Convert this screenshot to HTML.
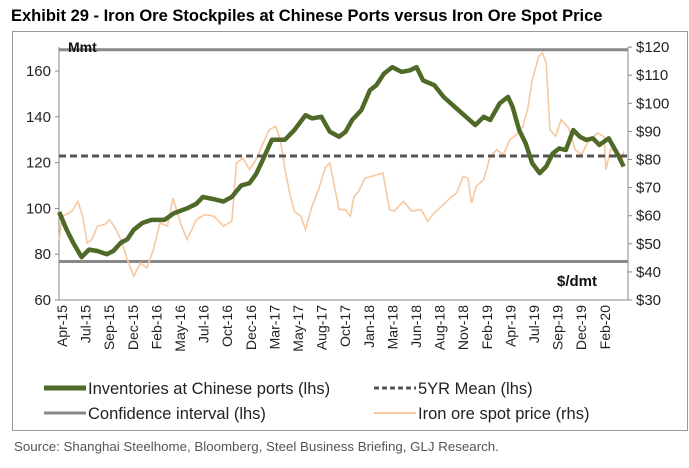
<!DOCTYPE html>
<html><head><meta charset="utf-8"><style>
body{margin:0;background:#fff;width:689px;height:463px;overflow:hidden;font-family:"Liberation Sans",sans-serif}
</style></head><body>
<svg width="689" height="463" xmlns="http://www.w3.org/2000/svg">
<text x="11" y="21" font-size="16.5" font-weight="bold" fill="#000">Exhibit 29 - Iron Ore Stockpiles at Chinese Ports versus Iron Ore Spot Price</text>
<rect x="12.5" y="31.5" width="675" height="399" fill="none" stroke="#9a9a9a"/>
<g id="plot"></g>
<text x="14" y="451" font-size="13.3" fill="#555">Source: Shanghai Steelhome, Bloomberg, Steel Business Briefing, GLJ Research.</text>
</svg>
<script>
const tickLabels=["Apr-15","Jul-15","Sep-15","Dec-15","Feb-16","May-16","Jul-16","Oct-16","Dec-16","Mar-17","May-17","Aug-17","Oct-17","Jan-18","Mar-18","Jun-18","Aug-18","Nov-18","Feb-19","Apr-19","Jul-19","Sep-19","Dec-19","Feb-20"];
const leftTicks=[60,80,100,120,140,160];
const rightTicks=[30,40,50,60,70,80,90,100,110,120];
const invMonths=[-0.3,0.5,1.2,2.1,2.9,3.8,4.8,5.5,6.3,7.0,7.7,8.6,9.6,11,12,13.4,14.4,15.1,16.3,17.3,18.2,19.2,20.1,20.8,21.5,22.5,23.9,24.9,26.1,26.8,27.8,28.7,29.7,30.4,31.1,32.1,33,33.7,34.5,35.4,36.4,37.3,38.0,38.7,39.9,40.9,42.1,43.3,44.3,45.2,45.9,46.9,47.8,48.3,49,49.7,50.4,51.2,51.9,52.6,53.3,54,54.8,55.5,56.2,56.9,57.6,58.6,59.5,60.2];
const invValues=[98.4,90.7,85,78.7,82,81.4,80,81.4,85,86.5,90.7,93.6,95,95,97.9,100,102,105,104,103,105,110,111,115,121,130,130,134.2,140.7,139.3,140,133.5,131.3,133.5,138.6,143,151.6,153.8,158.8,161.7,159.6,160.3,161.7,155.9,153.8,148.7,144.3,140,136.4,140,138.6,145.8,148.7,144.3,134.2,128.4,119.7,115.4,118.3,124,126.2,125.5,134.2,131.3,129.9,130.6,127.7,130.6,124,118.3];
const priceMonths=[-0.3,0,0.8,1.2,1.7,2.2,2.7,3.2,3.8,4.6,5.1,5.7,6.3,7,7.7,8.4,9.1,9.8,10.5,11.3,11.9,12.7,13.4,14.4,15.3,16.3,17.3,18.2,18.7,19.4,20.1,20.8,21.5,22.2,22.9,23.4,23.9,24.4,24.9,25.6,26.1,26.8,27.5,28.2,28.7,29.2,29.7,30.4,30.9,31.3,31.8,32.5,33.2,34.4,35.1,35.6,36.6,37.5,38.5,39.2,39.9,40.9,41.6,42.3,43,43.5,43.9,44.4,45.2,45.9,46.6,47.3,48,48.7,49.4,49.9,50.4,51.1,51.5,51.9,52.3,52.9,53.5,54.3,55,55.7,56.4,57.4,58.1,58.3,58.8,59.5,60,60.2];
const priceValues=[51.5,59.8,61,62.2,65.1,59.8,50.3,51.5,56.3,56.9,58.6,55.7,51.5,44.4,38.5,43.2,41.4,48,57.4,56.3,66.3,57.4,51.5,58.6,60.4,59.8,56.3,58,78.8,80.5,76.4,80,85.3,90.6,91.8,87,76.4,68.1,61.6,59.8,55.1,63.4,69.3,77,78.8,70.5,62.2,62.2,59.8,66.9,68.7,73.4,74,75.2,62.2,61.6,65.1,61.6,62.2,58,61,64,66.3,68.1,74,73.4,64.5,70.5,72.8,81.1,83.5,81.7,87,88.8,91.8,97.7,108.4,116.7,117.9,114.3,90.6,88.2,94.2,91.2,83.5,81.7,86.5,89.4,88.2,76.4,83.5,83.5,79.4,82.9];
const meanValue=[122.9];
const confBand=[76.8,169.3];

const NS="http://www.w3.org/2000/svg";
const g=document.getElementById('plot');
const X0=59,X1=628,YB=300;
const xM=m=>62+m*9.33;
const yL=v=>YB-(v-60)*2.29;
const yR=p=>YB-(p-30)*2.81;
function mk(t,a){const e=document.createElementNS(NS,t);for(const k in a)e.setAttribute(k,a[k]);g.appendChild(e);return e;}
let e;
e=mk('line',{x1:X0,y1:47,x2:X0,y2:YB,stroke:'#888','stroke-width':1});


e=mk('line',{x1:X1,y1:47,x2:X1,y2:YB,stroke:'#888','stroke-width':1});


e=mk('line',{x1:X0,y1:YB,x2:X1,y2:YB,stroke:'#888','stroke-width':1});


leftTicks.forEach(v=>{
 e=mk('line',{x1:X0-4,y1:yL(v),x2:X0,y2:yL(v),stroke:'#888'});
 
 
 e=mk('text',{x:X0-8,y:yL(v)+5,'font-size':15,'text-anchor':'end',fill:'#222'});
 e.textContent=v;
 
 
});
rightTicks.forEach(p=>{
 e=mk('line',{x1:X1,y1:yR(p),x2:X1+4,y2:yR(p),stroke:'#888'});
 
 
 e=mk('text',{x:X1+8,y:yR(p)+5,'font-size':15,fill:'#222'});
 e.textContent='$'+p;
 
 
});
tickLabels.forEach((t,i)=>{
 const x=62+i*23.6;
 e=mk('text',{x:0,y:0,'font-size':14,fill:'#222','text-anchor':'end',transform:`translate(${x+5},305) rotate(-90)`});
 e.textContent=t;
 
 
});
confBand.forEach(v=>{
 e=mk('line',{x1:X0,y1:yL(v),x2:X1,y2:yL(v),stroke:'#888','stroke-width':3});
 
 
});
e=mk('text',{x:68,y:52,'font-size':14,'font-weight':'bold',fill:'#111'});e.textContent='Mmt';


e=mk('text',{x:557,y:286,'font-size':15,'font-weight':'bold',fill:'#111'});e.textContent='$/dmt';


e=mk('polyline',{points:priceMonths.map((m,i)=>xM(m)+','+yR(priceValues[i])).join(' '),fill:'none',stroke:'#f6c8a0','stroke-width':1.6});


e=mk('line',{x1:X0,y1:yL(meanValue[0]),x2:X1,y2:yL(meanValue[0]),stroke:'#555','stroke-width':3,'stroke-dasharray':'7,4'});


e=mk('polyline',{points:invMonths.map((m,i)=>xM(m)+','+yL(invValues[i])).join(' '),fill:'none',stroke:'#4f6a28','stroke-width':4.5,'stroke-linejoin':'round'});


const leg=[[44,394,'Inventories at Chinese ports (lhs)','#4f6a28',5,null],[374,394,'5YR Mean (lhs)','#555',3,'5,3'],[44,419,'Confidence interval (lhs)','#888',3,null],[374,419,'Iron ore spot price (rhs)','#f6c8a0',2,null]];
leg.forEach(l=>{
 const a={x1:l[0],y1:l[1]-6,x2:l[0]+42,y2:l[1]-6,stroke:l[3],'stroke-width':l[4]};
 if(l[5])a['stroke-dasharray']=l[5];
 e=mk('line',a);
 
 
 e=mk('text',{x:l[0]+44,y:l[1],'font-size':16.5,fill:'#222'});
 e.textContent=l[2];
 
 
});
</script>
</body></html>
